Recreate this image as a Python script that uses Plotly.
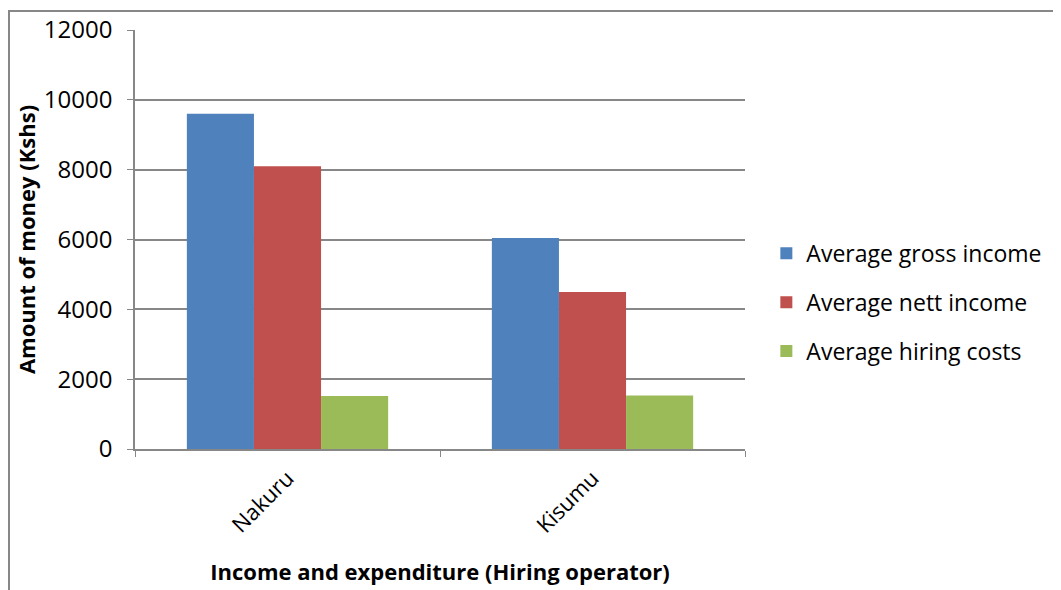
import plotly.graph_objects as go

regions = ['Nakuru', 'Kisumu']
gross_income = [9600, 6040]
nett_income = [8100, 4500]
hiring_costs = [1520, 1530]

series_names = ['Average gross income', 'Average nett income', 'Average hiring costs']
series_colors = ['#4F81BD', '#C0504D', '#9BBB59']

y_ticks = [0, 2000, 4000, 6000, 8000, 10000, 12000]
y_tick_text = ['0', '2000', '4000', '6000', '8000', '10000', '12000']

FONT = 'Open Sans, Liberation Sans, sans-serif'
GRID = '#878787'

fig = go.Figure()
for i, (name, vals) in enumerate(zip(series_names, [gross_income, nett_income, hiring_costs])):
	fig.add_trace(go.Bar(
		x=regions,
		y=vals,
		name=name,
		legendgroup=name,
		marker=dict(color=series_colors[i], line=dict(width=0))
	))

# page has an 8px body margin, so margins are shifted by that
fig.update_layout(
	width=1061,
	height=590,
	margin=dict(l=127, r=324, t=22, b=149, autoexpand=False),
	paper_bgcolor='white',
	plot_bgcolor='white',
	barmode='group',
	bargap=0.34,
	bargroupgap=0,
	font=dict(family=FONT, size=22, color='black'),
	legend=dict(
		x=1.035, y=0.35, xanchor='left', yanchor='middle',
		font=dict(size=23),
		tracegroupgap=16,
		itemwidth=30
	),
	showlegend=True
)

fig.update_yaxes(
	range=[0, 12000],
	tickvals=y_ticks,
	ticktext=y_tick_text,
	tickfont=dict(size=24),
	ticklabelstandoff=10,
	automargin=False,
	showgrid=True, gridcolor=GRID, gridwidth=1.5,
	showline=True, linecolor=GRID, linewidth=1.5,
	ticks='outside', ticklen=6, tickcolor=GRID,
	zeroline=False,
	title=dict(text='<b>Amount of money (Kshs)</b>', font=dict(size=22), standoff=2)
)

fig.update_xaxes(
	showline=True, linecolor=GRID, linewidth=1.5,
	ticks='outside', ticklen=6, tickcolor=GRID, tickson='boundaries',
	tickangle=-45,
	tickfont=dict(size=22),
	ticklabelstandoff=6,
	automargin=False,
	title=dict(text='<b>Income and expenditure (Hiring operator)</b>', font=dict(size=22), standoff=27)
)

# outer chart border (Excel chart area frame)
fig.add_shape(
	type='rect', xref='paper', yref='paper',
	x0=(1 - 127) / 610, x1=1.6, y0=-0.5, y1=(441 - 3) / 419,
	line=dict(color=GRID, width=2), fillcolor='rgba(0,0,0,0)', layer='below'
)

fig.write_html('out.html')
